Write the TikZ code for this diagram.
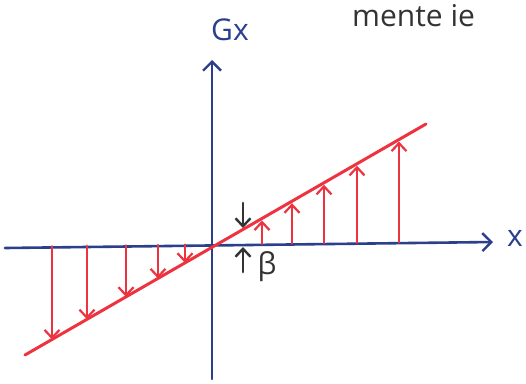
\documentclass[tikz,border=0pt]{standalone}
\usepackage{fontspec}
\setmainfont{Open Sans}
\usetikzlibrary{arrows.meta}
\definecolor{axisblue}{HTML}{2B3F8C}
\definecolor{loadred}{HTML}{EE3340}
\definecolor{inkgray}{HTML}{333333}
\begin{document}
\begin{tikzpicture}[x=1pt,y=-1pt,
  axis/.style={draw=axisblue,line width=2.6pt,line cap=round,-{Straight Barb[length=9pt,width=18pt,line width=2.4pt]}},
  redline/.style={draw=loadred,line width=3pt,line cap=round},
  redarrow/.style={draw=loadred,line width=2.8pt,line cap=round,-{Straight Barb[length=8pt,width=15pt,line width=2.2pt]}},
  blackarrow/.style={draw=inkgray,line width=2.8pt,line cap=round,-{Straight Barb[length=8pt,width=15pt,line width=2.4pt]}},
  lab/.style={font=\fontsize{30}{30}\selectfont,inner sep=0pt}]
\useasboundingbox (0,0) rectangle (526,383);
% axes
\coordinate (xs) at (5,248);
\coordinate (xe) at (493,242);
\coordinate (ys) at (212,379);
\coordinate (ye) at (212,60);
\draw[axis] (xs) -- (xe);
\draw[axis] (ys) -- (ye);
\node[lab,text=axisblue] (xl) at (515,238) {x};
\node[lab,text=axisblue] (gl) at (230,30) {Gx};
% red line
\coordinate (r1) at (25,355);
\coordinate (r2) at (426,124);
\draw[redline] (r1) -- (r2);
% downward arrows (left)
\foreach \i/\x in {1/52,2/87,3/126,4/158,5/185}{
  \pgfmathsetmacro{\ya}{247-0.0123*(\x-5)}
  \pgfmathsetmacro{\yr}{355-0.576*(\x-25)}
  \coordinate (da\i) at (\x,\ya);
  \coordinate (db\i) at (\x,\yr);
  \draw[redarrow] (da\i) -- (db\i);
}
% upward arrows (right)
\foreach \i/\x in {1/262,2/292,3/324,4/357,5/399}{
  \pgfmathsetmacro{\ya}{247-0.0123*(\x-5)}
  \pgfmathsetmacro{\yr}{355-0.576*(\x-25)+2}
  \coordinate (ua\i) at (\x,\ya);
  \coordinate (ub\i) at (\x,\yr);
  \draw[redarrow] (ua\i) -- (ub\i);
}
% beta marks
\coordinate (b1) at (243,203);
\coordinate (b2) at (243,228);
\coordinate (b3) at (243,272);
\coordinate (b4) at (243,247);
\draw[blackarrow] (b1) -- (b2);
\draw[blackarrow] (b3) -- (b4);
\node[lab,text=inkgray] (beta) at (267,267) {β};
% top text
\node[lab,text=inkgray,anchor=west] (tt) at (352,16) {mente ie};
\end{tikzpicture}
\end{document}
